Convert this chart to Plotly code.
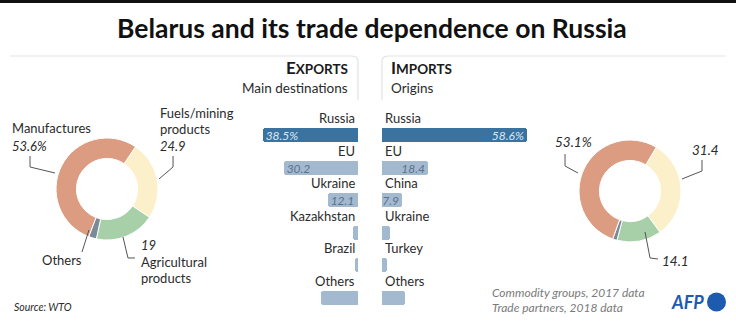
import plotly.graph_objects as go

W, H = 736, 322

# ---------------- data ----------------
exp_countries = ["Russia", "EU", "Ukraine", "Kazakhstan", "Brazil", "Others"]
exp_values = [38.5, 30.2, 12.1, 2.0, 1.5, 15.0]
exp_text = ["38.5%", "30.2", "12.1", "", "", ""]

imp_countries = ["Russia", "EU", "China", "Ukraine", "Turkey", "Others"]
imp_values = [58.6, 18.4, 7.9, 3.2, 2.0, 9.4]
imp_text = ["58.6%", "18.4", "7.9", "", "", ""]

groups = ["Fuels/mining products", "Agricultural products", "Others", "Manufactures"]
exp_shares = [24.9, 19.0, 2.5, 53.6]
imp_shares = [31.4, 14.1, 1.4, 53.1]

# ---------------- style ----------------
FONT = "Lato"
DARK = "#2b2b2b"
RUS_BAR = "#3b73a0"
OTH_BAR = "#a3b9cf"
PIE_COLORS = ["#fcf0cb", "#a7d0a9", "#7b8a97", "#dc9c82"]


def px(x):
    return x / W


def py(y):
    return 1 - y / H


K = 2.475  # pixels per percentage point
ROW0, ROWSTEP = 135.0, 32.6
rows = list(range(len(exp_countries)))
y_range = [(H - ROW0) / ROWSTEP, -ROW0 / ROWSTEP]

fig = go.Figure()

bar_colors = [RUS_BAR] + [OTH_BAR] * (len(rows) - 1)
txt_colors = ["#dce8f2"] + ["#5b728b"] * (len(rows) - 1)

fig.add_trace(go.Bar(
    x=exp_values, y=rows, orientation="h", width=0.43,
    marker=dict(color=bar_colors, cornerradius=3, line=dict(width=0)),
    text=exp_text, textposition="inside", insidetextanchor="end",
    constraintext="none",
    textfont=dict(family=FONT, size=12, color=txt_colors, style="italic"),
    xaxis="x", yaxis="y", hoverinfo="skip", showlegend=False,
))
fig.add_trace(go.Bar(
    x=imp_values, y=rows, orientation="h", width=0.43,
    marker=dict(color=bar_colors, cornerradius=3, line=dict(width=0)),
    text=imp_text, textposition="inside", insidetextanchor="end",
    constraintext="none",
    textfont=dict(family=FONT, size=12, color=txt_colors, style="italic"),
    xaxis="x2", yaxis="y", hoverinfo="skip", showlegend=False,
))


def donut(values, cx, cy, r, rot):
    return go.Pie(
        values=values, labels=groups, sort=False, direction="clockwise",
        rotation=rot, hole=0.6, textinfo="none", hoverinfo="skip",
        marker=dict(colors=PIE_COLORS, line=dict(color="white", width=1)),
        domain=dict(x=[px(cx - r), px(cx + r)], y=[py(cy + r), py(cy - r)]),
        showlegend=False,
    )


fig.add_trace(donut(exp_shares, 107, 189, 51, 34))
fig.add_trace(donut(imp_shares, 630, 191, 51, 31))

ax = dict(showgrid=False, zeroline=False, showticklabels=False, showline=False, fixedrange=True)
fig.update_layout(
    width=W, height=H, margin=dict(l=0, r=0, t=0, b=0),
    paper_bgcolor="white", plot_bgcolor="white",
    font=dict(family=FONT, color=DARK),
    xaxis=dict(domain=[px(358 - 45 * K), px(358)], range=[45, 0], **ax),
    xaxis2=dict(domain=[px(382), px(382 + 60 * K)], range=[0, 60], anchor="y", **ax),
    yaxis=dict(domain=[0, 1], range=y_range, **ax),
    bargap=0,
)

ann = []


def text(t, x, y, size=13, anchor="left", color=DARK, **kw):
    ann.append(dict(text=t, x=px(x), y=py(y), xref="paper", yref="paper",
                    xanchor=anchor, yanchor="middle", showarrow=False,
                    font=dict(family=FONT, size=size, color=color), **kw))


# title
text("<b>Belarus and its trade dependence on Russia</b>", 372, 28, size=26.5, anchor="center", color="#111111")

# headers
text("<b>E<span style='font-size:13.5px'>XPORTS</span></b>", 350, 68, size=17, anchor="right", color="#1a1a1a")
text("Main destinations", 350, 88, size=13.5, anchor="right")
text("<b>I<span style='font-size:13.5px'>MPORTS</span></b>", 389, 68, size=17, anchor="left", color="#1a1a1a")
text("Origins", 389, 88, size=13.5, anchor="left")

# country labels
for i, c in enumerate(exp_countries):
    ann.append(dict(text=c, x=px(357), y=i - 0.52, xref="paper", yref="y",
                    xanchor="right", yanchor="middle", showarrow=False,
                    font=dict(family=FONT, size=13, color=DARK)))
for i, c in enumerate(imp_countries):
    ann.append(dict(text=c, x=px(383), y=i - 0.52, xref="paper", yref="y",
                    xanchor="left", yanchor="middle", showarrow=False,
                    font=dict(family=FONT, size=13, color=DARK)))

# donut labels (left)
text("Manufactures", 10, 128)
text("<i>%.1f%%</i>" % exp_shares[3], 10, 146)
text("Fuels/mining", 158, 113)
text("products", 158, 129)
text("<i>%.1f</i>" % exp_shares[0], 158, 146)
text("Others", 40, 260)
text("<i>%g</i>" % exp_shares[1], 139, 245)
text("Agricultural", 139, 262)
text("products", 139, 278)

# donut labels (right)
text("<i>%.1f%%</i>" % imp_shares[3], 553, 142, size=13.5)
text("<i>%.1f</i>" % imp_shares[0], 690, 150, size=13.5)
text("<i>%.1f</i>" % imp_shares[1], 660, 261, size=13.5)

# notes
text("<i>Source: WTO</i>", 12, 307, size=10.5)
text("<i>Commodity groups, 2017 data</i>", 490, 292, size=12, color="#7a7a7a")
text("<i>Trade partners, 2018 data</i>", 490, 307, size=12, color="#7a7a7a")
text("<b><i>AFP</i></b>", 669, 302, size=18, color="#1d5bb0")

fig.update_layout(annotations=ann)

shapes = []


def path(pts, color="#555555", width=1):
    d = "M " + " L ".join("%.4f,%.4f" % (px(a), py(b)) for a, b in pts)
    shapes.append(dict(type="path", path=d, xref="paper", yref="paper",
                       line=dict(color=color, width=width)))


# top black band
shapes.append(dict(type="rect", x0=0, x1=1, y0=py(3), y1=1, xref="paper", yref="paper",
                   fillcolor="#111111", line=dict(width=0)))

# header frames
path([(10, 56), (352, 56), (356, 57), (358, 60), (358, 100)], color="#dfe4e8", width=1.2)
path([(382, 100), (382, 60), (384, 57), (388, 56), (725, 56)], color="#dfe4e8", width=1.2)

# leader lines left
path([(30, 156), (30, 167), (55, 173)])
path([(173, 156), (173, 167), (159, 179)])
path([(89, 230), (82, 252)])
path([(123, 237), (128, 258), (135, 258)])
# leader lines right
path([(565, 154), (565, 166), (578, 173)])
path([(702, 160), (702, 171), (682, 179)])
path([(645, 232), (650, 258), (658, 259)])

# AFP circle
shapes.append(dict(type="circle", xref="paper", yref="paper",
                   x0=px(707), x1=px(726), y0=py(311.5), y1=py(292.5),
                   fillcolor="#1d5bb0", line=dict(width=0)))

fig.update_layout(shapes=shapes)

fig.write_html("out.html")
